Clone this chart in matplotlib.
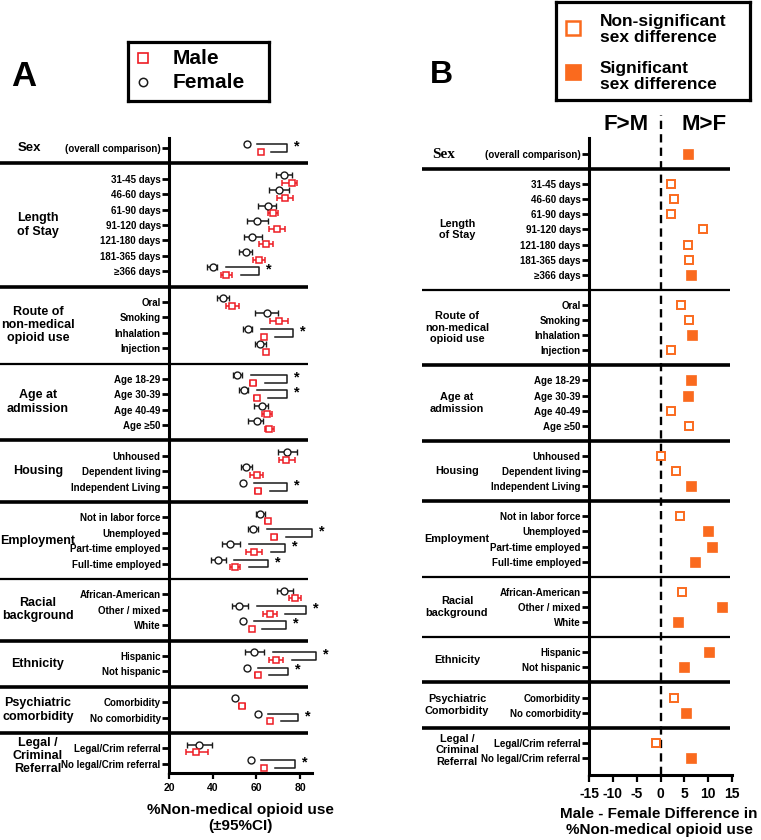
import matplotlib
matplotlib.use("Agg")
import matplotlib.pyplot as plt
import matplotlib.transforms as mtransforms
import numpy as np

plt.rcParams['font.family'] = ['Liberation Sans', 'DejaVu Sans']

W, H = 761, 840

# ---- data ----
groupNamesA = ["Sex", "Length\nof Stay", "Route of\nnon-medical\nopioid use", "Age at\nadmission",
               "Housing", "Employment", "Racial\nbackground", "Ethnicity",
               "Psychiatric\ncomorbidity", "Legal /\nCriminal\nReferral"]
groupNamesB = ["Sex", "Length\nof Stay", "Route of\nnon-medical\nopioid use", "Age at\nadmission",
               "Housing", "Employment", "Racial\nbackground", "Ethnicity",
               "Psychiatric\nComorbidity", "Legal /\nCriminal\nReferral"]
groupSizes = [1, 7, 4, 4, 3, 4, 3, 2, 2, 2]

rowLabels = ["(overall comparison)",
             "31-45 days", "46-60 days", "61-90 days", "91-120 days", "121-180 days", "181-365 days", "\u2265366 days",
             "Oral", "Smoking", "Inhalation", "Injection",
             "Age 18-29", "Age 30-39", "Age 40-49", "Age \u226550",
             "Unhoused", "Dependent living", "Independent Living",
             "Not in labor force", "Unemployed", "Part-time employed", "Full-time employed",
             "African-American", "Other / mixed", "White",
             "Hispanic", "Not hispanic",
             "Comorbidity", "No comorbidity",
             "Legal/Crim referral", "No legal/Crim referral"]

femalePct = [55.7, 72.7, 70.5, 65.2, 60.4, 58.2, 55.1, 40.0, 44.6, 64.7, 56.0, 61.7,
             51.3, 54.4, 62.4, 60.2, 74.2, 55.3, 54.0, 61.7, 58.3, 48.0, 42.5,
             72.8, 52.2, 54.0, 59.1, 55.8, 50.2, 60.6, 33.7, 57.4]
femaleLow = [55.0, 69.0, 65.7, 60.9, 55.6, 54.5, 52.2, 37.5, 41.8, 59.4, 54.0, 59.4,
             49.5, 52.2, 58.9, 56.3, 69.8, 52.8, 53.0, 59.7, 56.3, 44.1, 39.1,
             69.3, 49.0, 53.0, 54.8, 55.0, 49.3, 59.7, 28.1, 56.6]
femaleHigh = [56.5, 76.3, 75.1, 69.0, 65.5, 62.5, 57.9, 42.1, 47.6, 69.8, 58.2, 64.3,
              53.6, 56.3, 65.5, 63.2, 78.5, 57.9, 55.0, 64.0, 60.9, 52.5, 46.0,
              76.6, 56.3, 55.0, 63.5, 56.6, 51.1, 61.5, 39.8, 58.2]

malePct = [62.0, 76.2, 73.1, 67.5, 69.3, 64.3, 61.2, 46.1, 49.0, 70.5, 63.5, 64.3,
           58.6, 60.2, 64.7, 66.0, 73.4, 60.2, 60.9, 65.2, 68.3, 59.0, 50.2,
           77.7, 66.3, 57.9, 69.0, 60.6, 53.3, 66.3, 32.4, 63.7]
maleLow = [61.2, 71.8, 69.3, 65.3, 66.0, 61.0, 58.6, 43.7, 46.0, 66.3, 62.5, 63.3,
           57.3, 59.0, 62.7, 64.0, 70.5, 57.1, 59.6, 64.0, 67.0, 55.3, 48.0,
           75.1, 62.9, 57.2, 66.0, 59.6, 52.0, 65.4, 27.8, 63.0]
maleHigh = [62.8, 78.6, 77.0, 69.8, 73.1, 67.5, 64.0, 48.9, 52.0, 74.7, 64.5, 65.3,
            59.9, 61.4, 67.0, 68.1, 77.7, 63.2, 62.2, 66.4, 69.6, 62.8, 52.5,
            80.5, 69.3, 58.6, 72.3, 61.6, 54.6, 67.2, 38.0, 64.4]

# male - female difference (panel B)
diffMF = [5.8, 2.3, 2.8, 2.3, 9.0, 5.8, 6.0, 6.3, 4.3, 5.9, 6.7, 2.3,
          6.5, 5.7, 2.1, 5.9, 0.0, 3.2, 6.5, 4.1, 9.9, 10.8, 7.3,
          4.6, 12.9, 3.7, 10.1, 4.9, 2.8, 5.3, -1.0, 6.4]
significant = [1, 0, 0, 0, 0, 0, 0, 1, 0, 0, 1, 0,
               1, 1, 0, 0, 0, 0, 1, 0, 1, 1, 1,
               0, 1, 1, 1, 1, 0, 1, 0, 1]
# where the significance bracket is drawn in panel A (None = no bracket)
bracketX = [74.0, None, None, None, None, None, None, 61.4, None, None, 77.0, None,
            74.2, 74.2, None, None, None, None, 73.9, None, 85.4, 73.1, 65.2,
            None, 82.8, 73.4, 87.3, 74.6, None, 79.2, None, 77.7]

xTicksA = [20, 40, 60, 80]
xTicksB = [-15, -10, -5, 0, 5, 10, 15]

RED = '#ee1c24'
BLK = '#1a1a1a'
ORANGE = '#fa6a1e'

# ---- row layout ----
rowPos = []
groupCenter = []
sepPos = []
p = 0
for g, n in enumerate(groupSizes):
    rows = list(range(p, p + n))
    rowPos += rows
    groupCenter.append(np.mean(rows))
    p += n
    if g < len(groupSizes) - 1:
        sepPos.append(p)
        p += 1
rowPos = np.array(rowPos, dtype=float)


def figPos(x, y):
    return x / W, 1 - y / H


fig = plt.figure(figsize=(W / 100, H / 100), dpi=100)
fig.patch.set_facecolor('white')


def styleAxis(ax, xticks, xfs, xpad, xlen):
    for s in ['top', 'right']:
        ax.spines[s].set_visible(False)
    for s in ['left', 'bottom']:
        ax.spines[s].set_linewidth(2.2)
    ax.set_xticks(xticks)
    ax.set_xticklabels([str(t) for t in xticks], fontsize=xfs, fontweight='bold')
    ax.tick_params(axis='x', length=xlen, width=1.6, pad=xpad)
    ax.set_yticks(rowPos)
    ax.set_yticklabels(rowLabels, fontsize=7, fontweight='bold')
    ax.tick_params(axis='y', length=5, width=2, pad=1)


# ---------------- Panel A ----------------
axA = fig.add_axes([169 / W, 1 - 773 / H, 143 / W, 635 / H])
axA.set_xlim(20, 85.5)
axA.set_ylim(40.6, -0.65)
styleAxis(axA, xTicksA, 7.5, 3, 4)

fP = np.array(femalePct)
mP = np.array(malePct)
axA.errorbar(fP, rowPos - 0.25, xerr=[fP - np.array(femaleLow), np.array(femaleHigh) - fP],
             fmt='o', ms=5, mfc='white', mec=BLK, mew=1.0, ecolor=BLK, elinewidth=1.1,
             capsize=2.4, capthick=1.1, zorder=3, clip_on=False)
axA.errorbar(mP, rowPos + 0.25, xerr=[mP - np.array(maleLow), np.array(maleHigh) - mP],
             fmt='s', ms=5, mfc='white', mec=RED, mew=1.1, ecolor=RED, elinewidth=1.1,
             capsize=2.4, capthick=1.1, zorder=3, clip_on=False)

for i, bx in enumerate(bracketX):
    if bx is None:
        continue
    yf = rowPos[i] - 0.25
    ym = rowPos[i] + 0.25
    xf = femaleHigh[i] + 4
    xm = maleHigh[i] + 4
    axA.plot([xf, bx, bx, xm], [yf, yf, ym, ym], color=BLK, lw=1.1, clip_on=False)
    axA.text(bx + 4.5, rowPos[i] - 0.1, '*', fontsize=10.5, fontweight='bold',
             ha='center', va='center', clip_on=False)

blendA = mtransforms.blended_transform_factory(axA.transAxes, axA.transData)
thinA = [2, 5]
for k, s in enumerate(sepPos):
    axA.plot([-1.182, 0.972], [s, s], transform=blendA, color='black',
             lw=1.6 if k in thinA else 2.6, clip_on=False, solid_capstyle='butt')

for g, name in enumerate(groupNamesA):
    if g == 0:
        axA.text((18 - 169) / 143, groupCenter[g], name, transform=blendA, ha='left', va='center',
                 fontsize=9.5, fontweight='bold')
    else:
        axA.text((38 - 169) / 143, groupCenter[g], name, transform=blendA, ha='center', va='center',
                 fontsize=9, fontweight='bold', linespacing=1.15, multialignment='center')

fig.text(*figPos(240, 818), "%Non-medical opioid use\n(\u00b195%CI)", ha='center', va='center',
         fontsize=11, fontweight='bold', linespacing=1.25)

# ---------------- Panel B ----------------
axB = fig.add_axes([589 / W, 1 - 775 / H, 143 / W, 637 / H])
axB.set_xlim(-15, 15)
axB.set_ylim(41.13, -1.06)
styleAxis(axB, xTicksB, 10, 3.5, 5)

for i, v in enumerate(diffMF):
    if significant[i]:
        axB.plot(v, rowPos[i], 's', ms=7, mfc=ORANGE, mec=ORANGE, mew=0.5, zorder=3)
    else:
        axB.plot(v, rowPos[i], 's', ms=6, mfc='white', mec=ORANGE, mew=1.4, zorder=3)

axB.plot([0, 0], [41.13, -2.6], color='black', lw=1.7, ls=(0, (3.5, 2.2)), clip_on=False, zorder=1)

blendB = mtransforms.blended_transform_factory(axB.transAxes, axB.transData)
thinB = [1, 5, 6]
for k, s in enumerate(sepPos):
    axB.plot([-1.168, 0.986], [s, s], transform=blendB, color='black',
             lw=1.6 if k in thinB else 2.6, clip_on=False, solid_capstyle='butt')

for g, name in enumerate(groupNamesB):
    if g == 0:
        axB.text((444 - 589) / 143, groupCenter[g], name, transform=blendB, ha='center', va='center',
                 fontsize=11, fontweight='bold', family=['Liberation Serif', 'DejaVu Serif'])
    else:
        axB.text((457 - 589) / 143, groupCenter[g], name, transform=blendB, ha='center', va='center',
                 fontsize=7.8, fontweight='bold', linespacing=1.2, multialignment='center')

fig.text(*figPos(626, 125), "F>M", ha='center', va='center', fontsize=16, fontweight='bold')
fig.text(*figPos(704, 125), "M>F", ha='center', va='center', fontsize=16, fontweight='bold')
fig.text(*figPos(659, 822), "Male - Female Difference in\n%Non-medical opioid use", ha='center',
         va='center', fontsize=11, fontweight='bold', linespacing=1.25)

# ---------------- panel letters ----------------
fig.text(*figPos(24, 77), "A", ha='center', va='center', fontsize=25, fontweight='bold')
fig.text(*figPos(441, 75), "B", ha='center', va='center', fontsize=23, fontweight='bold')

# ---------------- legends ----------------
legA = fig.add_axes([128 / W, 1 - 101 / H, 141 / W, 59 / H])
legA.set_xlim(0, 141)
legA.set_ylim(59, 0)
legA.set_xticks([])
legA.set_yticks([])
for s in legA.spines.values():
    s.set_linewidth(2.3)
legA.plot(15, 16, 's', ms=7, mfc='white', mec=RED, mew=1.2)
legA.plot(15, 40, 'o', ms=6, mfc='white', mec=BLK, mew=1.1)
legA.text(45, 17, "Male", fontsize=15, fontweight='bold', va='center', ha='left')
legA.text(45, 41, "Female", fontsize=15, fontweight='bold', va='center', ha='left')

legB = fig.add_axes([556 / W, 1 - 100 / H, 194 / W, 98.5 / H])
legB.set_xlim(0, 194)
legB.set_ylim(98.5, 0)
legB.set_xticks([])
legB.set_yticks([])
for s in legB.spines.values():
    s.set_linewidth(2.3)
legB.plot(17, 27, 's', ms=9.5, mfc='white', mec=ORANGE, mew=1.8)
legB.plot(17, 71, 's', ms=12, mfc=ORANGE, mec=ORANGE, mew=0.5)
legB.text(44, 28, "Non-significant\nsex difference", fontsize=12.5, fontweight='bold',
          va='center', ha='left', linespacing=1.15)
legB.text(44, 75, "Significant\nsex difference", fontsize=12.5, fontweight='bold',
          va='center', ha='left', linespacing=1.15)

fig.savefig("out.png", dpi=100, facecolor='white')
